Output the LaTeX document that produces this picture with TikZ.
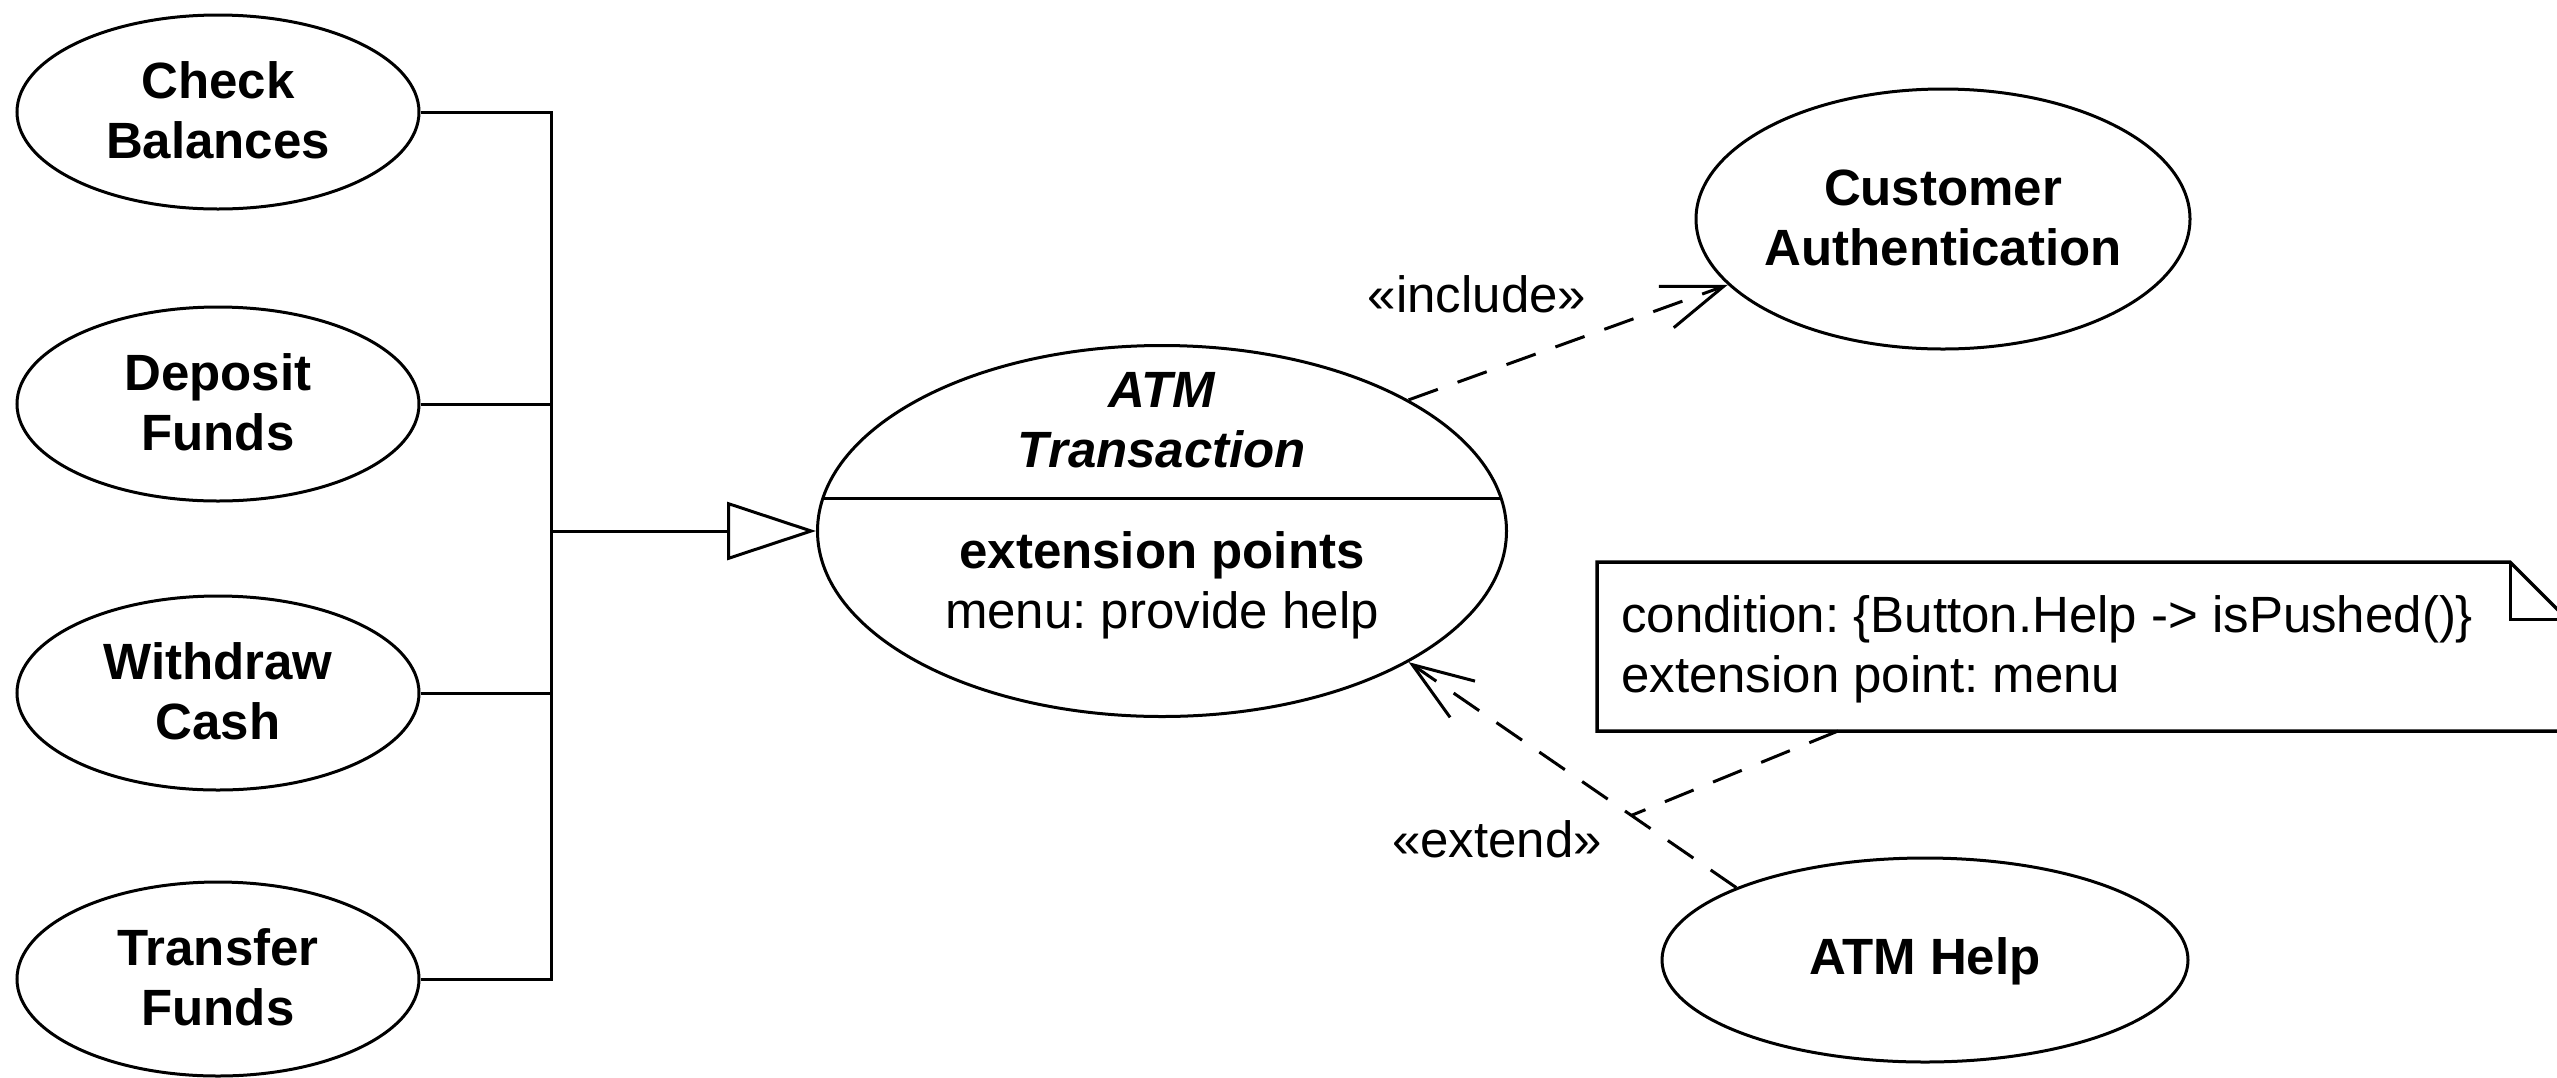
\documentclass[tikz,border=0pt]{standalone}
\usepackage{fontspec}
\setmainfont{Liberation Sans}
\usetikzlibrary{shapes.geometric,arrows.meta,calc}
\frenchspacing

% text size used throughout the diagram
\newcommand{\dfont}{\fontsize{51}{60}\selectfont}
% stacked lines whose baseline is the baseline of the first line
\newcommand{\uclines}[2][c]{\begin{tabular}[t]{@{}#1@{}}#2\end{tabular}}

\begin{document}
\begin{tikzpicture}[x=1pt,y=-1pt,
  every node/.style={font=\dfont, inner sep=0pt},
  usecase/.style={ellipse, draw, line width=3pt, font=\dfont\bfseries,
    inner xsep=-60pt, inner ysep=0pt, text height=40pt, text depth=68pt},
  small uc/.style={usecase, minimum width=402pt, minimum height=194pt},
  conn/.style={line width=3pt},
  gen/.style={conn, -{Triangle[open,length=89pt,width=58pt]}},
  dep/.style={conn, dash pattern=on 31pt off 21pt,
    -{Straight Barb[length=61pt,width=44pt]}},
  anchorline/.style={conn, dash pattern=on 31pt off 21pt},
  lbl/.style={anchor=base}
]
\useasboundingbox (0,0) rectangle (2557,1077);
\clip (0,0) rectangle (2557,1077);
\fill[white] (0,0) rectangle (2557,1077);

% concrete transactions
\node[small uc] (cb) at (218,112) {\uclines{Check\\Balances}};
\node[small uc] (df) at (218,404) {\uclines{Deposit\\Funds}};
\node[small uc] (wc) at (218,693) {\uclines{Withdraw\\Cash}};
\node[small uc] (tf) at (218,979) {\uclines{Transfer\\Funds}};

% abstract use case with extension point compartment
\node[ellipse, draw, line width=3pt, minimum width=689pt, minimum height=371pt]
  (atm) at (1162,531) {};
\draw[conn] ($(atm.center)+(-339,-33)$) -- ($(atm.center)+(339,-33)$);
\node[lbl, font=\dfont\bfseries\itshape] (atmname) at (1162,407)
  {\uclines{ATM\\Transaction}};
\node[lbl] (atmext) at (1162,568)
  {\uclines{\textbf{extension points}\\menu: provide help}};

% included and extending use cases
\node[usecase, minimum width=494pt, minimum height=260pt] (ca) at (1943,219)
  {\uclines{Customer\\Authentication}};
\node[usecase, minimum width=526pt, minimum height=204pt, text depth=12pt]
  (help) at (1925,960) {ATM Help};

% generalization tree
\coordinate (bar) at (551,531);
\draw[conn] (cb.east) -| (bar) |- (tf.east);
\draw[conn] (df.east) -- (df.east -| bar);
\draw[conn] (wc.east) -- (wc.east -| bar);
\draw[gen] (bar) -- (atm.west);

% include and extend dependencies
\draw[dep] (atm.28) -- (ca.197);
\node[lbl] (inc) at (1477,312) {«include»};
\draw[dep] (help.159) -- (atm.332);
\node[lbl] (ext) at (1497,857) {«extend»};
\coordinate (extmid) at ($(help.159)!0.32!(atm.332)$);

% note with folded corner
\coordinate (n1) at (1597,562);
\coordinate (n2) at (2510,562);
\coordinate (n3) at (2567,619);
\coordinate (n4) at (2567,731);
\coordinate (n5) at (1597,731);
\coordinate (nf) at (2510,619);
\draw[line width=3.5pt, line join=miter] (n1) -- (n2) -- (n3) -- (n4) -- (n5) -- cycle;
\draw[conn] (n2) -- (nf) -- (n3);
\node[anchor=base west] (notetext) at (1621,632)
  {\uclines[l]{condition: \{Button.Help -> isPushed()\}\\extension point: menu}};
\coordinate (nanc) at (1838,731);
\draw[anchorline] (nanc) -- (extmid);
\end{tikzpicture}
\end{document}
